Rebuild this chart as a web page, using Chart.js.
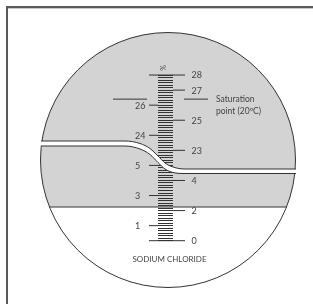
<!DOCTYPE html>
<html>
<head>
<meta charset="utf-8">
<script src="https://cdn.jsdelivr.net/npm/chart.js@4/dist/chart.umd.min.js"></script>
<style>
  html, body { margin: 0; padding: 0; background: #fff; }
  #wrap { width: 313px; height: 304px; }
</style>
</head>
<body>
<div id="wrap"><canvas id="myChart" width="313" height="304"></canvas></div>
<script>
// graduations of the scale, top to bottom
var scaleLabels = ["28", "27", "26", "25", "24", "23", "5", "4", "3", "2", "1", "0"];
var scalePos = [11, 10, 9, 8, 7, 6, 5, 4, 3, 2, 1, 0];
var labelSide = ["both", "right", "left", "right", "left", "right", "left", "right", "left", "right", "left", "both"];
var saturationPos = 9.4; // 26.4 %
var saturationText = ["Saturation", "point (20ºC)"];
var scaleTitle = "SODIUM CHLORIDE";

// light / dark boundary seen in the field of view
var boundaryX = [41, 125, 140, 150, 158, 165, 173, 185, 296];
var boundaryTop = [141, 141, 143.5, 148.5, 156, 163, 167, 169, 169];
var boundaryBottom = [146, 146, 149, 154.5, 162.5, 169, 172.5, 173.5, 173.5];

var lens = { x: 168, y: 160, r: 127.5 };
var chordY = 207;
var ink = "#333";
var textColor = "#444";

function pts(xs, ys) {
  return xs.map(function (x, i) { return { x: x, y: ys[i] }; });
}

var tickData = [];
scalePos.forEach(function (p, i) {
  var side = labelSide[i];
  var x1 = side == "right" ? 173 : 149;
  var x2 = side == "left" ? 158 : 185;
  tickData.push({ x: x1, y: p }, { x: x2, y: p }, { x: x2 + 1, y: null });
});

var satData = [
  { x: 113, y: saturationPos }, { x: 147, y: saturationPos },
  { x: 160, y: null },
  { x: 184, y: saturationPos }, { x: 208, y: saturationPos }
];

var lensBackground = {
  id: "lensBackground",
  beforeDraw: function (chart) {
    var ctx = chart.ctx, sx = chart.scales.x, sy = chart.scales.y;
    var cx = sx.getPixelForValue(lens.x), cy = sy.getPixelForValue(lens.y);
    var r = sx.getPixelForValue(lens.x + lens.r) - cx;
    var a = Math.asin((sy.getPixelForValue(chordY) - cy) / r);
    ctx.save();
    ctx.beginPath();
    ctx.arc(cx, cy, r, Math.PI - a, 2 * Math.PI + a);
    ctx.closePath();
    ctx.fillStyle = "#d3d3d3";
    ctx.fill();
    ctx.restore();
  }
};

var texts = {
  id: "texts",
  afterDraw: function (chart) {
    var ctx = chart.ctx, sx = chart.scales.x, sy = chart.scales.y, g = chart.scales.g;
    ctx.save();
    ctx.fillStyle = textColor;
    ctx.font = "9px Lato";
    ctx.textBaseline = "middle";
    ctx.textAlign = "left";
    scaleLabels.forEach(function (t, i) {
      var y = g.getPixelForValue(scalePos[i]) + 0.5;
      var x = labelSide[i] == "left" ? sx.getPixelForValue(135) : sx.getPixelForValue(191.5);
      ctx.fillText(t, x, y);
    });
    ctx.font = "8.5px Lato";
    ctx.fillText(saturationText[0], sx.getPixelForValue(216), sy.getPixelForValue(99));
    ctx.fillText(saturationText[1], sx.getPixelForValue(216), sy.getPixelForValue(111));
    ctx.textAlign = "center";
    ctx.font = "8px Lato";
    ctx.fillText(scaleTitle, sx.getPixelForValue(169.5), sy.getPixelForValue(259));
    // rotated percent sign above the scale
    ctx.save();
    ctx.translate(sx.getPixelForValue(163.5), sy.getPixelForValue(68));
    ctx.rotate(-Math.PI / 2);
    ctx.font = "7px Lato";
    ctx.fillText("%", 0, 0);
    ctx.restore();
    // frame
    ctx.strokeStyle = "#5a5a5a";
    ctx.lineWidth = 2;
    ctx.beginPath();
    ctx.moveTo(7, 304);
    ctx.lineTo(7, 7);
    ctx.lineTo(313, 7);
    ctx.stroke();
    ctx.strokeStyle = "#c8c8c8";
    ctx.lineWidth = 1;
    ctx.beginPath();
    ctx.moveTo(8, 8.5);
    ctx.lineTo(313, 8.5);
    ctx.stroke();
    ctx.restore();
  }
};

new Chart("myChart", {
  type: "scatter",
  data: {
    datasets: [
      {
        type: "line",
        data: pts(boundaryX, boundaryTop),
        borderColor: ink,
        borderWidth: 1,
        pointRadius: 0,
        cubicInterpolationMode: "monotone",
        fill: false,
      },
      {
        type: "line",
        data: pts(boundaryX, boundaryBottom),
        borderColor: ink,
        borderWidth: 1,
        pointRadius: 0,
        cubicInterpolationMode: "monotone",
        fill: 0,
        backgroundColor: "#ffffff",
      },
      {
        type: "line",
        data: [{ x: 49, y: chordY }, { x: 287, y: chordY }],
        borderColor: ink,
        borderWidth: 1,
        pointRadius: 0,
        fill: false,
      },
      {
        type: "bubble",
        data: [{ x: lens.x, y: lens.y, r: lens.r }],
        borderColor: ink,
        borderWidth: 1,
        backgroundColor: "rgba(0,0,0,0)",
        clip: false,
      },
      {
        type: "line",
        yAxisID: "g",
        data: tickData,
        borderColor: ink,
        borderWidth: 1,
        pointRadius: 0,
        spanGaps: false,
        fill: false,
      },
      {
        type: "line",
        yAxisID: "g",
        data: satData,
        borderColor: ink,
        borderWidth: 1,
        pointRadius: 0,
        spanGaps: false,
        fill: false,
      },
    ],
  },
  options: {
    responsive: false,
    animation: false,
    events: [],
    layout: { padding: 0, autoPadding: false },
    plugins: {
      legend: { display: false },
      tooltip: { enabled: false },
    },
    scales: {
      x: { type: "linear", min: 0, max: 313, display: false },
      y: { type: "linear", min: 0, max: 304, reverse: true, display: false },
      // graduation scale; its tick marks form the ladder of minor divisions
      g: {
        type: "linear",
        axis: "y",
        min: -4.203,
        max: 15.983,
        position: { x: 173 },
        border: { display: false },
        grid: {
          drawOnChartArea: false,
          drawTicks: true,
          tickLength: 15,
          tickWidth: 1,
          tickColor: function (c) {
            var v = c.tick ? c.tick.value : -99;
            return v > -0.05 && v < 11.05 ? ink : "rgba(0,0,0,0)";
          },
        },
        ticks: { display: false, stepSize: 1 / 6 },
      },
    },
  },
  plugins: [lensBackground, texts],
});
</script>
</body>
</html>
